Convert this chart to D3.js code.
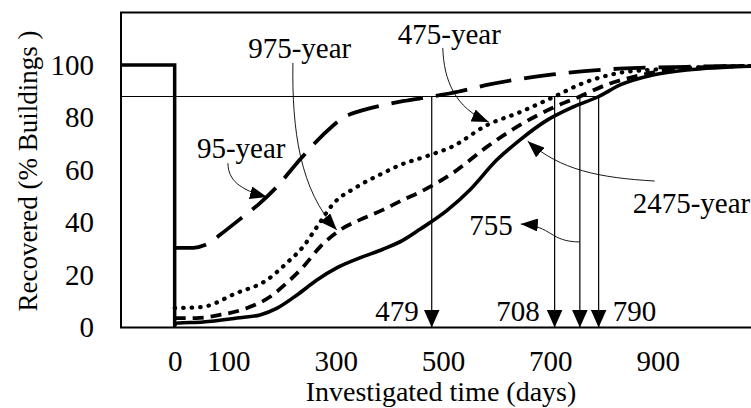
<!DOCTYPE html>
<html>
<head>
<meta charset="utf-8">
<script src="https://cdn.jsdelivr.net/npm/d3@7"></script>
<style>
  body { margin: 0; background: #fff; }
  text { font-family: "Liberation Serif", "Times New Roman", serif; fill: #000; }
</style>
</head>
<body>
<svg id="chart" width="751" height="408"></svg>
<script>
// Axis ticks
const xTicks = [0, 100, 300, 500, 700, 900];
const yTicks = [0, 20, 40, 60, 80, 100];

// Building stock before the event, then the drop at day 0
const preEvent = [[-100, 100], [0, 100], [0, 0]];

// Recovery curves: [days, % buildings recovered]
const rp95 = [[0, 30.3], [35, 30.3], [55, 31.3], [70, 33], [84, 35.2], [120, 41], [159, 47.4], [190, 53.5],
  [228, 62.7], [276, 73.3], [313, 79.8], [351, 82.8], [395, 85], [425, 86.2], [479, 88], [530, 89.9],
  [582, 92.4], [705, 96.4], [829, 98.6], [954, 99.3], [1100, 99.7]];
const rp475 = [[0, 7.4], [50, 7.8], [115, 13.1], [172, 18.1], [209, 24.6], [239, 30.7], [265, 38.3],
  [295, 47], [339, 53.5], [388, 58.8], [420, 61.9], [470, 65.3], [518, 69], [581, 77], [643, 82],
  [708, 88], [760, 93], [829, 97], [891, 98.2], [1000, 99.3], [1100, 99.7]];
const rp975 = [[0, 3.6], [40, 3.6], [84, 4.8], [135, 7.4], [177, 11.6], [209, 17], [239, 23], [271, 30.7],
  [308, 37.1], [345, 41], [388, 44.8], [425, 48.6], [457, 51.6], [518, 58.8], [581, 68.7], [643, 77.1],
  [710, 84.2], [755, 88], [805, 92.5], [865, 96], [954, 98.9], [1100, 99.8]];
const rp2475 = [[0, 1], [5, 1.7], [53, 2.1], [116, 3.6], [159, 4.8], [191, 7.4], [228, 12.4], [265, 18.1],
  [302, 22.7], [345, 26.5], [388, 29.8], [425, 33.2], [457, 37.4], [507, 44.5], [550, 52.4], [600, 63.8],
  [643, 71.4], [694, 79], [742, 84], [790, 88], [830, 92.4], [891, 96.2], [954, 98.1], [1100, 99.7]];

// Days needed to reach the recovery target
const targetLevel = 88;
const recoveryDays = [479, 708, 755, 790];

// Return-period labels and their leader arrows (data coordinates)
const periodLabels = [
  { text: "95-year",   at: [41.5, 64.6] },
  { text: "975-year",  at: [136.9, 102.5] },
  { text: "475-year",  at: [415.8, 108.0] },
  { text: "2475-year", at: [853.4, 43.6] }
];
const leaders = [
  [[99.3, 62.6], [99.3, 56.2], [121.6, 52.4], [172.0, 49.7]],
  [[220.3, 100.8], [218.4, 75.2], [233.3, 52.4], [302.2, 37.1]],
  [[499.6, 106.5], [501.5, 94.3], [522.0, 83.6], [585.3, 78.3]],
  [[894.4, 55.8], [792.0, 57.0], [717.5, 60.0], [657.9, 71.0]],
  [[755, 32.6], [698.5, 32.6], [704.1, 38.7], [644.9, 39.4]]
];
const label755 = { text: "755", at: [630.0, 35.2] };

const svg = d3.select("#chart");
const x = d3.scaleLinear().domain([-100, 1100]).range([121, 765]);
const y = d3.scaleLinear().domain([0, 120]).range([327.5, 12.5]);

// Arrowhead markers
const defs = svg.append("defs");
function marker(id, len, half) {
  defs.append("marker")
    .attr("id", id)
    .attr("viewBox", `${-len} ${-half} ${len} ${half * 2}`)
    .attr("refX", 0).attr("refY", 0)
    .attr("markerWidth", len).attr("markerHeight", half * 2)
    .attr("markerUnits", "userSpaceOnUse")
    .attr("orient", "auto")
    .append("path")
    .attr("d", `M0,0L${-len},${-half}L${-len},${half}Z`)
    .attr("fill", "#000");
}
marker("head", 17, 6.5);
marker("headLg", 18, 8);

// Axes (labels only)
const fontSize = 29;
svg.append("g")
  .attr("transform", `translate(${x(-100)},0)`)
  .call(d3.axisLeft(y).tickValues(yTicks).tickSize(0).tickPadding(27))
  .call(g => g.select(".domain").remove())
  .call(g => g.selectAll("text").attr("font-size", fontSize).attr("font-family", null));
svg.append("g")
  .attr("transform", `translate(0,${y(0)})`)
  .call(d3.axisBottom(x).tickValues(xTicks).tickSize(0).tickPadding(23))
  .call(g => g.select(".domain").remove())
  .call(g => g.selectAll("text").attr("font-size", fontSize).attr("font-family", null));

// Plot frame
svg.append("path")
  .attr("d", `M${x(1100)},${y(120)}H${x(-100)}V${y(0)}H${x(1100)}`)
  .attr("fill", "none").attr("stroke", "#000").attr("stroke-width", 2);

// Axis titles
svg.append("text")
  .attr("transform", `translate(28,171) rotate(-90)`)
  .attr("text-anchor", "middle").attr("dy", "0.35em")
  .attr("font-size", 27)
  .text("Recovered (% Buildings )");
svg.append("text")
  .attr("x", 441).attr("y", 401)
  .attr("text-anchor", "middle")
  .attr("font-size", 28)
  .text("Investigated time (days)");

// Target level line
svg.append("line")
  .attr("x1", x(-100)).attr("x2", x(d3.max(recoveryDays)))
  .attr("y1", y(targetLevel)).attr("y2", y(targetLevel))
  .attr("stroke", "#000").attr("stroke-width", 1);

// Vertical arrows at recovery days
svg.selectAll(".rec").data(recoveryDays).join("line")
  .attr("class", "rec")
  .attr("x1", d => x(d)).attr("x2", d => x(d))
  .attr("y1", y(targetLevel)).attr("y2", y(0))
  .attr("stroke", "#000").attr("stroke-width", 1.2)
  .attr("marker-end", "url(#headLg)");

// Recovery-day labels
const dayLabels = [
  { d: recoveryDays[0], dx: -13, anchor: "end" },
  { d: recoveryDays[1], dx: -15, anchor: "end" },
  { d: recoveryDays[3], dx: 14, anchor: "start" }
];
svg.selectAll(".daylab").data(dayLabels).join("text")
  .attr("class", "daylab")
  .attr("x", d => x(d.d) + d.dx).attr("y", y(0) - 7)
  .attr("text-anchor", d => d.anchor)
  .attr("font-size", fontSize)
  .text(d => d.d);

// Curves
const lineLin = d3.line().x(d => x(d[0])).y(d => y(d[1]));
const lineSmooth = d3.line().x(d => x(d[0])).y(d => y(d[1])).curve(d3.curveMonotoneX);

svg.append("path").attr("d", lineLin(preEvent))
  .attr("fill", "none").attr("stroke", "#000").attr("stroke-width", 3.5);

const curves = [
  { data: rp95,   dash: "32,13",  width: 3.8, cap: "butt" },
  { data: rp475,  dash: "0.5,8",  width: 4.2, cap: "round" },
  { data: rp975,  dash: "11,7",   width: 3.8, cap: "butt" },
  { data: rp2475, dash: null,     width: 3.6, cap: "butt" }
];
svg.selectAll(".curve").data(curves).join("path")
  .attr("class", "curve")
  .attr("d", d => lineSmooth(d.data))
  .attr("fill", "none").attr("stroke", "#000")
  .attr("stroke-width", d => d.width)
  .attr("stroke-linecap", d => d.cap)
  .attr("stroke-dasharray", d => d.dash);

// Leader arrows
svg.selectAll(".leader").data(leaders).join("path")
  .attr("class", "leader")
  .attr("d", p => `M${x(p[0][0])},${y(p[0][1])}C${x(p[1][0])},${y(p[1][1])} ${x(p[2][0])},${y(p[2][1])} ${x(p[3][0])},${y(p[3][1])}`)
  .attr("fill", "none").attr("stroke", "#000").attr("stroke-width", 0.9)
  .attr("marker-end", "url(#head)");

// Return-period labels
svg.selectAll(".plab").data(periodLabels).join("text")
  .attr("class", "plab")
  .attr("x", d => x(d.at[0])).attr("y", d => y(d.at[1]))
  .attr("font-size", fontSize)
  .text(d => d.text);
svg.append("text")
  .attr("x", x(label755.at[0])).attr("y", y(label755.at[1]))
  .attr("text-anchor", "end")
  .attr("font-size", fontSize)
  .text(label755.text);
</script>
</body>
</html>
